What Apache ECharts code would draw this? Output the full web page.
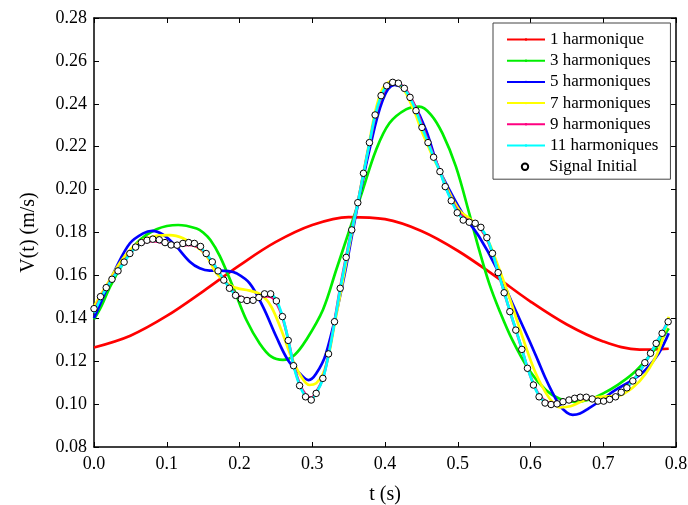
<!DOCTYPE html>
<html><head><meta charset="utf-8">
<script src="https://cdn.jsdelivr.net/npm/echarts@6/dist/echarts.min.js"></script>
<style>html,body{margin:0;padding:0;background:#fff}#c{width:688px;height:505px}</style>
</head><body><div id="c"></div>
<script>
// ---- data ----
const xTicks = [0.0, 0.1, 0.2, 0.3, 0.4, 0.5, 0.6, 0.7, 0.8];
const yTicks = [0.08, 0.10, 0.12, 0.14, 0.16, 0.18, 0.20, 0.22, 0.24, 0.26, 0.28];
const seriesNames = ['1 harmonique', '3 harmoniques', '5 harmoniques', '7 harmoniques', '9 harmoniques', '11 harmoniques', 'Signal Initial'];

const tH1 = [0.00,0.05,0.10,0.15,0.20,0.25,0.30,0.35,0.40,0.45,0.50,0.55,0.60,0.65,0.70,0.75,0.79];
const vH1 = [0.1264,0.1319,0.1411,0.1526,0.1647,0.1756,0.1835,0.1872,0.1862,0.1807,0.1715,0.1600,0.1478,0.1371,0.1292,0.1254,0.1258];

const tH3 = [0.000,0.010,0.022,0.040,0.0585,0.086,0.1157,0.141,0.150,0.160,0.173,0.191,0.2095,0.2277,0.2438,0.2597,0.2757,0.2917,0.3146,0.3329,0.3512,0.3694,0.3877,0.406,0.4289,0.4472,0.463,0.479,0.4975,0.5158,0.5295,0.5432,0.557,0.575,0.598,0.621,0.640,0.660,0.680,0.700,0.720,0.740,0.760,0.775,0.790];
const vH3 = [0.1395,0.1455,0.1547,0.1656,0.1750,0.1815,0.1835,0.1819,0.1800,0.1765,0.1690,0.1547,0.1392,0.1283,0.1221,0.1206,0.1229,0.1299,0.1439,0.1625,0.1812,0.1998,0.2185,0.2309,0.2374,0.2387,0.2350,0.2262,0.2107,0.1889,0.1718,0.1563,0.1439,0.1299,0.1159,0.1066,0.1025,0.1010,0.1020,0.1050,0.1090,0.1140,0.1210,0.1275,0.1353];

const tH5 = [0.000,0.0128,0.031,0.0494,0.0676,0.080,0.095,0.1133,0.1317,0.1454,0.159,0.1728,0.185,0.1957,0.214,0.2322,0.2506,0.2665,0.2826,0.295,0.305,0.319,0.342,0.3603,0.3786,0.3969,0.4129,0.4243,0.438,0.4563,0.472,0.4838,0.5066,0.5295,0.5524,0.5752,0.598,0.610,0.620,0.630,0.640,0.650,0.658,0.668,0.680,0.694,0.717,0.740,0.758,0.7764,0.790];
const vH5 = [0.1400,0.1501,0.1640,0.1750,0.1796,0.1808,0.1790,0.1734,0.1664,0.1633,0.1622,0.1622,0.1620,0.1610,0.1563,0.1454,0.1314,0.1206,0.1144,0.1112,0.1140,0.1237,0.1563,0.1889,0.2185,0.2418,0.2488,0.2472,0.2410,0.2278,0.2115,0.2029,0.1889,0.1780,0.1640,0.1469,0.1299,0.1205,0.1125,0.1055,0.0995,0.0960,0.0950,0.0956,0.0980,0.1011,0.1066,0.1112,0.1159,0.1237,0.1330];

const tH7 = [0.000,0.0174,0.040,0.063,0.086,0.1043,0.1225,0.1408,0.155,0.1683,0.1911,0.214,0.230,0.2437,0.2575,0.2712,0.2849,0.2963,0.3054,0.3146,0.3224,0.330,0.3384,0.3466,0.3543,0.3626,0.3704,0.3786,0.3864,0.3946,0.4023,0.410,0.4184,0.4266,0.4344,0.4426,0.4508,0.4591,0.4668,0.4755,0.485,0.502,0.5158,0.5295,0.5432,0.5524,0.5706,0.5889,0.6072,0.6255,0.640,0.655,0.670,0.685,0.700,0.720,0.740,0.758,0.7764,0.790];
const vH7 = [0.1454,0.1555,0.1680,0.1757,0.1784,0.1788,0.1773,0.1734,0.1690,0.1610,0.1547,0.1529,0.1509,0.1454,0.1345,0.1221,0.1128,0.1089,0.1097,0.1140,0.1225,0.1360,0.1510,0.1660,0.1800,0.1940,0.2080,0.2225,0.2360,0.2455,0.2495,0.2505,0.2490,0.2462,0.2410,0.2345,0.2270,0.2205,0.2145,0.2085,0.2010,0.1905,0.1866,0.1827,0.1750,0.1672,0.1501,0.1314,0.1144,0.1030,0.0985,0.0990,0.1012,0.1030,0.1035,0.1038,0.1075,0.1140,0.1252,0.1407];

const tSig = [0.0000,0.0089,0.0168,0.0247,0.0330,0.0414,0.0493,0.0572,0.0651,0.0729,
0.0808,0.0897,0.0976,0.1060,0.1143,0.1222,0.1301,0.1380,0.1464,0.1542,
0.1626,0.1705,0.1784,0.1862,0.1946,0.2025,0.2103,0.2187,0.2266,0.2344,
0.2428,0.2507,0.2590,0.2670,0.2743,0.2826,0.2908,0.2986,0.3054,0.3146,
0.3224,0.3306,0.3384,0.3466,0.3543,0.3626,0.3704,0.3786,0.3864,0.3946,
0.4023,0.4106,0.4184,0.4266,0.4344,0.4426,0.4508,0.4591,0.4668,0.4755,
0.4828,0.4911,0.4993,0.5075,0.5158,0.5240,0.5318,0.5400,0.5477,0.5555,
0.5638,0.5716,0.5798,0.5881,0.5958,0.6040,0.6118,0.6200,0.6283,0.6365,
0.6447,0.6529,0.6607,0.6684,0.6767,0.6849,0.6927,0.7005,0.7087,0.7169,
0.7247,0.7325,0.7407,0.7490,0.7572,0.7650,0.7727,0.7809,0.7892];

const vSig = [0.1445,0.1501,0.1543,0.1582,0.1621,0.1662,0.1702,0.1732,0.1753,0.1764,
0.1769,0.1766,0.1753,0.1742,0.1741,0.1749,0.1753,0.1749,0.1735,0.1702,
0.1663,0.1621,0.1578,0.1540,0.1507,0.1489,0.1483,0.1484,0.1497,0.1514,
0.1514,0.1481,0.1408,0.1297,0.1179,0.1086,0.1034,0.1019,0.1050,0.1120,
0.1234,0.1384,0.1540,0.1684,0.1812,0.1939,0.2076,0.2219,0.2348,0.2438,
0.2484,0.2500,0.2496,0.2472,0.2430,0.2368,0.2290,0.2219,0.2151,0.2084,
0.2014,0.1948,0.1892,0.1858,0.1848,0.1843,0.1824,0.1776,0.1703,0.1613,
0.1519,0.1431,0.1345,0.1255,0.1167,0.1089,0.1034,0.1005,0.0998,0.1001,
0.1011,0.1019,0.1027,0.1032,0.1032,0.1024,0.1014,0.1014,0.1022,0.1034,
0.1055,0.1076,0.1108,0.1146,0.1193,0.1237,0.1283,0.1330,0.1384];

const vH9 = [0.1430,0.1495,0.1542,0.1584,0.1625,0.1665,0.1702,0.1730,0.1748,0.1758,
0.1760,0.1756,0.1748,0.1740,0.1738,0.1740,0.1742,0.1738,0.1725,0.1698,
0.1662,0.1622,0.1582,0.1545,0.1515,0.1497,0.1490,0.1490,0.1495,0.1503,
0.1500,0.1472,0.1405,0.1300,0.1185,0.1095,0.1045,0.1030,0.1055,0.1120,
0.1235,0.1385,0.1542,0.1688,0.1815,0.1940,0.2075,0.2212,0.2338,0.2428,
0.2478,0.2495,0.2494,0.2475,0.2436,0.2378,0.2302,0.2228,0.2158,0.2088,
0.2018,0.1955,0.1905,0.1872,0.1855,0.1840,0.1815,0.1770,0.1702,0.1615,
0.1522,0.1433,0.1346,0.1257,0.1170,0.1095,0.1043,0.1015,0.1005,0.1005,
0.1010,0.1016,0.1022,0.1026,0.1026,0.1022,0.1018,0.1018,0.1024,0.1036,
0.1055,0.1078,0.1108,0.1146,0.1192,0.1236,0.1283,0.1333,0.1388];

const vH11 = [0.1425,0.1490,0.1540,0.1582,0.1622,0.1662,0.1700,0.1730,0.1750,0.1762,
0.1765,0.1760,0.1750,0.1740,0.1738,0.1744,0.1748,0.1745,0.1730,0.1700,
0.1663,0.1622,0.1580,0.1542,0.1510,0.1492,0.1485,0.1486,0.1497,0.1512,
0.1512,0.1485,0.1410,0.1300,0.1180,0.1088,0.1037,0.1024,0.1050,0.1118,
0.1230,0.1380,0.1535,0.1680,0.1810,0.1938,0.2075,0.2215,0.2345,0.2435,
0.2482,0.2495,0.2492,0.2470,0.2428,0.2368,0.2292,0.2220,0.2152,0.2084,
0.2015,0.1950,0.1895,0.1862,0.1850,0.1842,0.1822,0.1776,0.1705,0.1615,
0.1522,0.1434,0.1348,0.1258,0.1170,0.1093,0.1038,0.1010,0.1000,0.1002,
0.1010,0.1018,0.1025,0.1030,0.1030,0.1024,0.1016,0.1016,0.1022,0.1034,
0.1054,0.1078,0.1108,0.1146,0.1192,0.1236,0.1282,0.1332,0.1385];

const colors = ['#ff0000', '#00ee00', '#0000ff', '#ffff00', '#ff0080', '#00ffff'];

// ---- chart ----
const FONT = '"Liberation Serif", "Times New Roman", "DejaVu Serif", serif';
const zip = (t, v) => t.slice(0, Math.min(t.length, v.length)).map((x, i) => [x, v[i]]);
const mkLine = (name, color, t, v, z) => ({
  name, type: 'line', data: zip(t, v), smooth: 0.35, symbol: 'none',
  lineStyle: { color, width: 2.7 }, itemStyle: { color }, z, animation: false
});

const chart = echarts.init(document.getElementById('c'), null, { renderer: 'canvas' });
const axisCommon = {
  axisLine: { show: true, onZero: false, lineStyle: { color: '#000', width: 1.5 } },
  axisTick: { show: true, inside: true, length: 5, lineStyle: { color: '#000', width: 1 } },
  splitLine: { show: false }
};
const ROW = 21.2;
const legendText = { fontFamily: FONT, fontSize: 17, color: '#000', lineHeight: 17 };
chart.setOption({
  animation: false,
  backgroundColor: '#fff',
  grid: { left: 94, right: 12, top: 18, bottom: 58, show: false, containLabel: false, outerBoundsMode: 'none' },
  xAxis: [
    Object.assign({ type: 'value', position: 'bottom', min: xTicks[0], max: xTicks[xTicks.length - 1], interval: 0.1,
      name: 't (s)', nameLocation: 'middle', nameGap: 38,
      nameTextStyle: { fontFamily: FONT, fontSize: 20, color: '#000' },
      axisLabel: { formatter: v => v.toFixed(1), fontFamily: FONT, fontSize: 18, color: '#000', margin: 8 } }, axisCommon),
    Object.assign({ type: 'value', position: 'top', min: xTicks[0], max: xTicks[xTicks.length - 1], interval: 0.1,
      axisLabel: { show: false } }, axisCommon)
  ],
  yAxis: [
    Object.assign({ type: 'value', position: 'left', min: yTicks[0], max: yTicks[yTicks.length - 1], interval: 0.02,
      name: 'V(t) (m/s)', nameLocation: 'middle', nameGap: 55,
      nameTextStyle: { fontFamily: FONT, fontSize: 20, color: '#000' },
      axisLabel: { formatter: v => v.toFixed(2), fontFamily: FONT, fontSize: 18, color: '#000', margin: 7 } }, axisCommon),
    Object.assign({ type: 'value', position: 'right', min: yTicks[0], max: yTicks[yTicks.length - 1], interval: 0.02,
      axisLabel: { show: false } }, axisCommon)
  ],
  legend: [
    {
      orient: 'vertical', left: 493, top: 23, z: 20,
      backgroundColor: '#fff', borderColor: '#444', borderWidth: 1,
      padding: [8, 12, 4 + ROW, 13], itemWidth: 38, itemHeight: 3, itemGap: ROW - 17,
      textStyle: legendText,
      data: seriesNames.slice(0, 6)
    },
    {
      orient: 'vertical', left: 493, top: 23 + 8 + 6 * ROW, z: 21,
      padding: [0, 10, 0, 13], itemWidth: 38, itemHeight: 8,
      textStyle: legendText,
      data: seriesNames.slice(6)
    }
  ],
  series: [
    mkLine(seriesNames[0], colors[0], tH1, vH1, 2),
    mkLine(seriesNames[1], colors[1], tH3, vH3, 3),
    mkLine(seriesNames[2], colors[2], tH5, vH5, 4),
    mkLine(seriesNames[3], colors[3], tH7, vH7, 5),
    mkLine(seriesNames[4], colors[4], tSig, vH9, 6),
    mkLine(seriesNames[5], colors[5], tSig, vH11, 7),
    {
      name: seriesNames[6], type: 'line', data: zip(tSig, vSig), symbol: 'circle', symbolSize: 6.5,
      showSymbol: true, showAllSymbol: true,
      lineStyle: { width: 0, opacity: 0 },
      itemStyle: { color: '#fff', borderColor: '#000', borderWidth: 1 }, z: 10, animation: false
    }
  ]
});
</script>
</body></html>
